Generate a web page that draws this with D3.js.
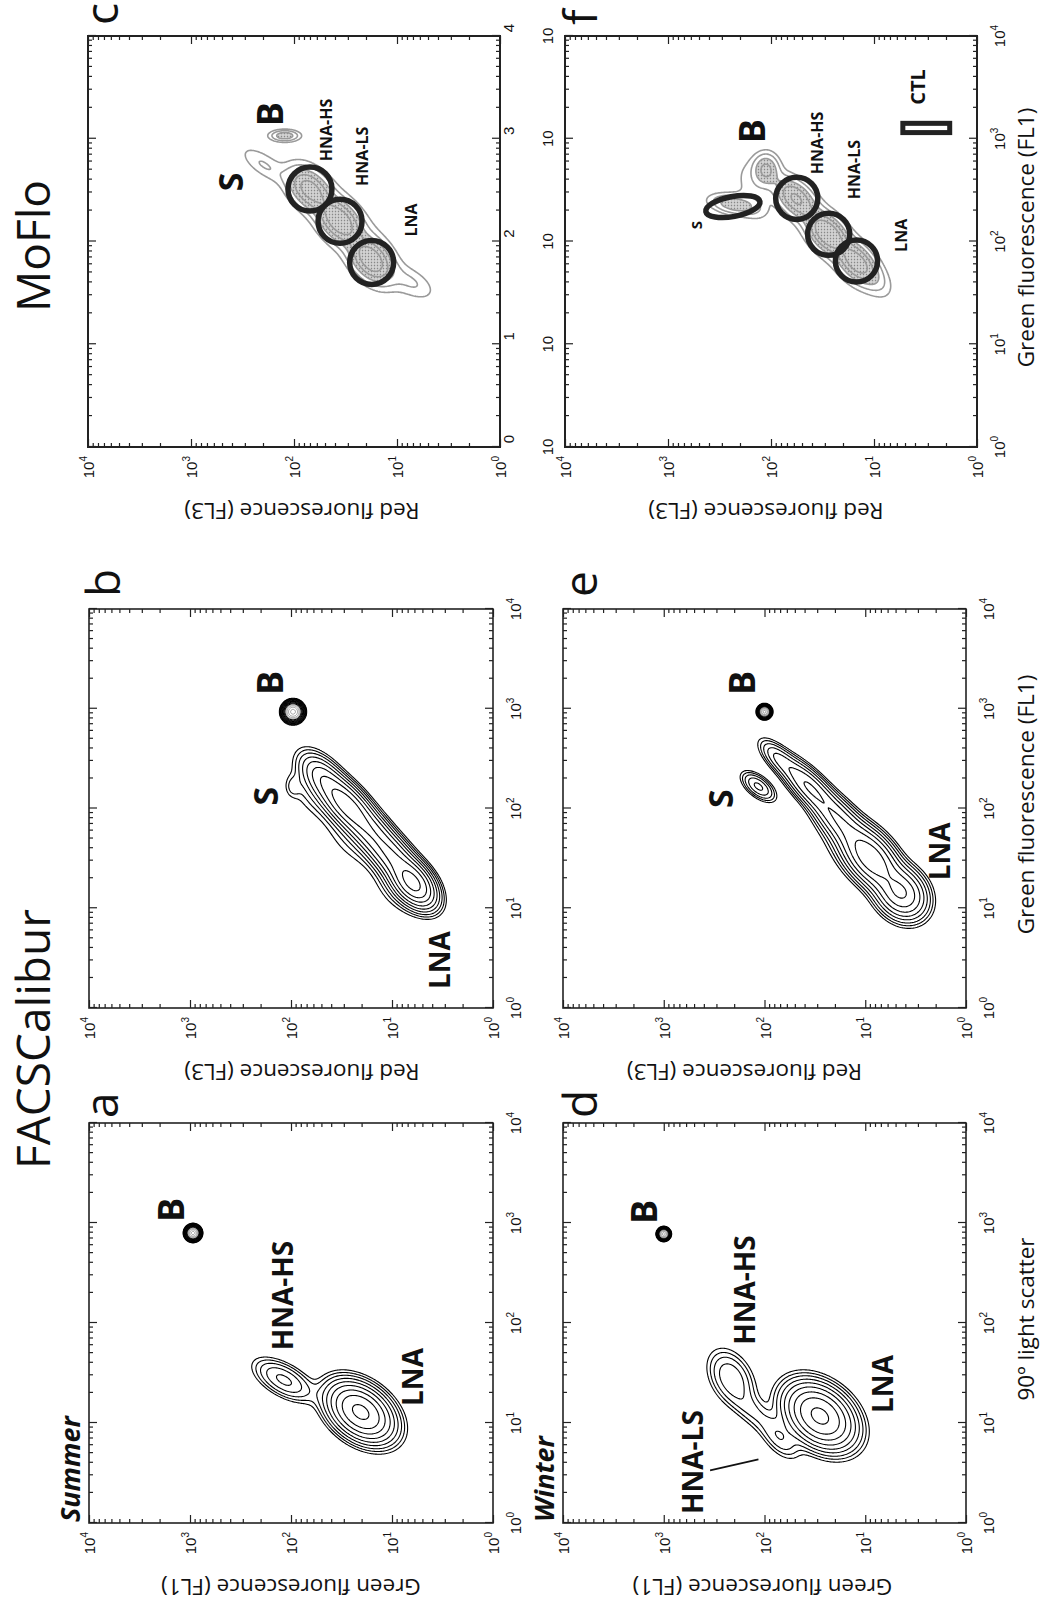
<!DOCTYPE html>
<html>
<head>
<meta charset="utf-8">
<script src="https://cdn.jsdelivr.net/npm/d3@7"></script>
<style>
  body { margin: 0; background: #fff; }
  svg { display: block; }
  text { font-family: "Open Sans", "Noto Sans", sans-serif; fill: #111; }
  .tl { font-family: "Liberation Sans", Arial, sans-serif; font-size: 15px; }
</style>
</head>
<body>
<svg id="canvas" width="1045" height="1617"></svg>
<script>
// ---------- values ----------
const panels = ['a', 'b', 'c', 'd', 'e', 'f'];
const decades = [0, 1, 2, 3, 4];
const groupTitles = ['FACSCalibur', 'MoFlo'];
const yTitles = ['Green fluorescence (FL1)', 'Red fluorescence (FL3)', 'Red fluorescence (FL3)',
                 'Green fluorescence (FL1)', 'Red fluorescence (FL3)', 'Red fluorescence (FL3)'];
const xTitles = [null, null, null, '90º light scatter', 'Green fluorescence (FL1)', 'Green fluorescence (FL1)'];
const seasons = ['Summer', null, null, 'Winter', null, null];

// cell populations: [log10 x, log10 y, sd along axis, sd across axis, axis angle (deg), peak]
const popsA = [
  [2.90, 2.97, 0.029, 0.029, 0, 300],
  [1.43, 2.07, 0.180, 0.085, 60, 7],
  [1.11, 1.31, 0.190, 0.125, 52, 45]
];
const popsB = [
  [2.97, 1.98, 0.040, 0.040, 0, 300],
  [2.30, 1.68, 0.17, 0.09, 40, 12],
  [2.04, 1.45, 0.18, 0.09, 42, 30],
  [1.78, 1.22, 0.18, 0.09, 42, 18],
  [1.52, 1.00, 0.18, 0.09, 42, 22],
  [1.25, 0.79, 0.15, 0.09, 40, 45],
  [2.15, 1.80, 0.20, 0.12, 40, 1.5],
  [1.70, 1.40, 0.25, 0.14, 42, 1.5],
  [1.20, 0.95, 0.20, 0.13, 40, 1.5],
  [2.22, 1.98, 0.07, 0.05, 0, 1.5]
];
const popsC = [
  [3.03, 2.09, 0.09, 0.035, 90, 5],
  [2.75, 2.30, 0.17, 0.07, 55, 2],
  [2.51, 1.85, 0.15, 0.10, 45, 9],
  [2.20, 1.56, 0.15, 0.10, 42, 10],
  [1.82, 1.25, 0.15, 0.10, 40, 10],
  [1.60, 0.85, 0.16, 0.08, 60, 1.8],
  [2.10, 1.45, 0.50, 0.17, 42, 1.5]
];
const popsD = [
  [2.89, 3.00, 0.023, 0.023, 0, 300],
  [1.45, 2.33, 0.17, 0.11, 30, 6],
  [1.12, 2.12, 0.18, 0.08, 45, 2.5],
  [0.85, 1.85, 0.15, 0.08, 40, 3.5],
  [1.07, 1.45, 0.20, 0.14, 50, 45]
];
const popsE = [
  [2.97, 2.00, 0.025, 0.025, 0, 300],
  [2.22, 2.06, 0.11, 0.055, 51, 7],
  [2.50, 1.86, 0.14, 0.06, 45, 6],
  [2.22, 1.56, 0.20, 0.075, 44, 16],
  [1.88, 1.26, 0.20, 0.09, 42, 14],
  [1.50, 0.94, 0.20, 0.11, 40, 35],
  [1.15, 0.64, 0.15, 0.12, 40, 25],
  [1.60, 1.15, 0.30, 0.15, 42, 1.2]
];
const popsF = [
  [2.70, 2.05, 0.10, 0.08, 0, 6],
  [2.36, 2.36, 0.15, 0.06, 80, 5],
  [2.50, 2.20, 0.25, 0.10, 20, 1.2],
  [2.42, 1.76, 0.15, 0.09, 45, 8],
  [2.08, 1.45, 0.14, 0.09, 42, 11],
  [1.80, 1.17, 0.14, 0.09, 40, 9],
  [1.65, 1.00, 0.14, 0.08, 40, 2],
  [2.00, 1.40, 0.45, 0.15, 42, 1.2]
];
const levelsFacs = [1, 1.6, 2.5, 4, 6.3, 10, 16, 25, 40, 63, 100, 160, 250];
const levelsMoflo = [1, 2, 3.5, 5.5, 8];

// population labels: [text, log10 x, log10 y]
const labelsA = [['B', 3.13, 3.06], ['HNA-HS', 2.275, 1.98], ['LNA', 1.46, 0.69]];
const labelsB = [['B', 3.26, 2.08], ['S', 2.125, 2.13], ['LNA', 0.48, 0.43]];
const labelsC = [['S', 2.58, 2.50], ['B', 3.24, 2.11], ['HNA-HS', 3.085, 1.63], ['HNA-LS', 2.83, 1.28], ['LNA', 2.21, 0.81]];
const labelsD = [['B', 3.11, 3.07], ['HNA-HS', 2.33, 2.09], ['LNA', 1.39, 0.72], ['HNA-LS', 0.61, 2.61]];
const labelsE = [['S', 2.10, 2.31], ['B', 3.26, 2.09], ['LNA', 1.57, 0.16]];
const labelsF = [['S', 2.16, 2.67], ['B', 3.075, 2.06], ['HNA-HS', 2.96, 1.50], ['HNA-LS', 2.70, 1.14], ['LNA', 2.06, 0.68], ['CTL', 3.33, 0.505]];

// MoFlo sort gates: circles [log10 x, log10 y, radius in decades]
const gatesC = [[2.51, 1.845, 0.214], [2.196, 1.553, 0.214], [1.796, 1.246, 0.214]];
const gatesF = [[2.42, 1.75, 0.205], [2.07, 1.44, 0.205], [1.81, 1.17, 0.205]];
const gateS_F = [2.34, 2.37, 0.097, 0.267, -10.6];   // x, y, rx, ry (decades), tilt
const ctlGate = [3.06, 3.15, 0.265, 0.72];            // x0, x1, y0, y1 (log10)
const leaderD = [[0.526, 2.54], [0.636, 2.06]];       // HNA-LS pointer

const panelData = {
  a: {pops: popsA, levels: levelsFacs, labels: labelsA},
  b: {pops: popsB, levels: levelsFacs, labels: labelsB},
  c: {pops: popsC, levels: levelsMoflo, labels: labelsC},
  d: {pops: popsD, levels: levelsFacs, labels: labelsD},
  e: {pops: popsE, levels: levelsFacs, labels: labelsE},
  f: {pops: popsF, levels: levelsMoflo, labels: labelsF}
};

// ---------- layout (landscape frame, later turned -90deg) ----------
const W = 1045, H = 1617;
const layout = {
  a: {left: 94,   top: 89,  w: 400, h: 404, letterDx: 5,  letterDy: 29, titleShift: 0},
  b: {left: 609,  top: 89,  w: 399, h: 404, letterDx: 12, letterDy: 31, titleShift: 11},
  c: {left: 1170, top: 88,  w: 411, h: 412, letterDx: 11, letterDy: 30, titleShift: 8},
  d: {left: 94,   top: 563, w: 400, h: 403, letterDx: 5,  letterDy: 34, titleShift: -2},
  e: {left: 609,  top: 563, w: 399, h: 403, letterDx: 12, letterDy: 34, titleShift: -20},
  f: {left: 1170, top: 565, w: 411, h: 412, letterDx: 11, letterDy: 32, titleShift: -5}
};
const labelSize = {
  a: {B: 36, S: 34, other: 28}, b: {B: 36, S: 34, other: 28}, d: {B: 36, S: 34, other: 28},
  e: {B: 36, S: 34, other: 28}, c: {B: 36, S: 34, other: 16}, f: {B: 36, S: 15, CTL: 20, other: 16}
};

const svg = d3.select('#canvas');
const defs = svg.append('defs');
const pat = defs.append('pattern').attr('id', 'stipple')
  .attr('width', 3).attr('height', 3).attr('patternUnits', 'userSpaceOnUse');
pat.append('rect').attr('width', 3).attr('height', 3).attr('fill', '#d2d2d2');
pat.append('circle').attr('cx', 1.5).attr('cy', 1.5).attr('r', 0.8).attr('fill', '#888');

const fig = svg.append('g').attr('transform', `translate(0,${H}) rotate(-90)`);

fig.append('text').attr('x', 578).attr('y', 50).attr('text-anchor', 'middle')
  .attr('font-size', 46).text(groupTitles[0]);
fig.append('text').attr('x', 1371).attr('y', 50).attr('text-anchor', 'middle')
  .attr('font-size', 46).text(groupTitles[1]);

const density = (pops, lx, ly) => {
  let s = 0;
  for (const p of pops) {
    const t = p[4] * Math.PI / 180, dx = lx - p[0], dy = ly - p[1];
    const a = dx * Math.cos(t) + dy * Math.sin(t);
    const b = -dx * Math.sin(t) + dy * Math.cos(t);
    s += p[5] * Math.exp(-0.5 * (a * a / (p[2] * p[2]) + b * b / (p[3] * p[3])));
  }
  return s;
};

const N = 400;

panels.forEach((key, idx) => {
  const L = layout[key], D = panelData[key];
  const moflo = key === 'c' || key === 'f';
  const g = fig.append('g').attr('transform', `translate(${L.left},${L.top})`);

  const x = d3.scaleLog().domain([1, 1e4]).range([0, L.w]);
  const y = d3.scaleLog().domain([1, 1e4]).range([L.h, 0]);

  // density grid -> contours
  const vals = new Float64Array(N * N);
  for (let j = 0; j < N; j++) {
    for (let i = 0; i < N; i++) {
      vals[j * N + i] = density(D.pops, (i + 0.5) * 4 / N, (j + 0.5) * 4 / N);
    }
  }
  const contours = d3.contours().size([N, N]).thresholds(D.levels)(vals);
  const proj = d3.geoTransform({
    point(px, py) { this.stream.point(x(10 ** (px * 4 / N)), y(10 ** (py * 4 / N))); }
  });
  const path = d3.geoPath(proj);

  g.selectAll('path.ct').data(contours).join('path')
    .attr('class', 'ct')
    .attr('d', path)
    .attr('fill', (c, k) => moflo && k >= 2 ? 'url(#stipple)' : 'none')
    .attr('stroke', (c, k) => moflo ? '#9a9a9a' : (k > 8 ? '#666' : '#000'))
    .attr('stroke-width', (c, k) => moflo ? 1.6 : (k > 8 ? 0.6 : 1.1))
    .attr('stroke-linejoin', 'round');

  // ticks on all four sides
  const all = x.ticks();
  const isMajor = t => Math.abs(Math.log10(t) - Math.round(Math.log10(t))) < 1e-9;
  const major = all.filter(isMajor), minor = all.filter(t => !isMajor(t));
  const tickSets = [
    [d3.axisBottom(x), `translate(0,${L.h})`],
    [d3.axisTop(x), 'translate(0,0)'],
    [d3.axisLeft(y), 'translate(0,0)'],
    [d3.axisRight(y), `translate(${L.w},0)`]
  ];
  tickSets.forEach(([ax, tr]) => {
    [[minor, -4], [major, -8]].forEach(([tv, sz]) => {
      const a = g.append('g').attr('transform', tr)
        .call(ax.tickValues(tv).tickSize(sz).tickFormat(''));
      a.select('.domain').remove();
      a.selectAll('line').attr('stroke', '#222').attr('stroke-width', 1.2);
    });
  });

  g.append('rect').attr('width', L.w).attr('height', L.h)
    .attr('fill', 'none').attr('stroke', '#222').attr('stroke-width', moflo ? 2 : 1.6);

  // tick labels
  const yl = g.selectAll('text.yl').data(decades).join('text')
    .attr('class', 'tl yl').attr('text-anchor', 'end')
    .attr('x', -9).attr('y', d => y(10 ** d) + 6);
  yl.append('tspan').text('10');
  yl.append('tspan').attr('dy', -7).attr('font-size', 10).text(d => d);

  if (key === 'c') {
    g.selectAll('text.xb').data(decades).join('text')
      .attr('class', 'tl xb').attr('text-anchor', 'middle')
      .attr('x', d => x(10 ** d)).attr('y', L.h + 53).text('10');
    g.selectAll('text.xs').data(decades).join('text')
      .attr('class', 'tl xs').attr('text-anchor', 'middle').attr('font-size', 10)
      .attr('x', d => x(10 ** d) + 8).attr('y', L.h + 14).text(d => d);
  } else {
    const xl = g.selectAll('text.xl').data(decades).join('text')
      .attr('class', 'tl xl').attr('text-anchor', 'middle')
      .attr('x', d => x(10 ** d)).attr('y', L.h + 28);
    xl.append('tspan').text('10');
    xl.append('tspan').attr('dy', -7).attr('font-size', 10).text(d => d);
  }

  // axis titles
  g.append('text')
    .attr('transform', `translate(-56,${L.h / 2 + L.titleShift}) rotate(-90)`)
    .attr('text-anchor', 'middle').attr('font-size', 22.5).text(yTitles[idx]);
  if (xTitles[idx]) {
    g.append('text').attr('x', L.w / 2 + 4).attr('y', 1034 - L.top)
      .attr('text-anchor', 'middle').attr('font-size', 22.5).text(xTitles[idx]);
  }

  // panel letter and season
  g.append('text').attr('x', L.w + L.letterDx).attr('y', L.letterDy)
    .attr('font-size', 46).text(key);
  if (seasons[idx]) {
    g.append('text').attr('x', 1).attr('y', -9)
      .attr('font-size', 27).attr('font-weight', 700).attr('font-style', 'italic')
      .text(seasons[idx]);
  }

  // gates
  if (key === 'c' || key === 'f') {
    const gates = key === 'c' ? gatesC : gatesF;
    g.selectAll('circle.gate').data(gates).join('circle')
      .attr('class', 'gate')
      .attr('cx', d => x(10 ** d[0])).attr('cy', d => y(10 ** d[1]))
      .attr('r', d => x(10 ** (d[0] + d[2])) - x(10 ** d[0]))
      .attr('fill', 'none').attr('stroke', '#222').attr('stroke-width', 5.5);
  }
  if (key === 'f') {
    const [ex, ey, erx, ery, tilt] = gateS_F;
    const cx = x(10 ** ex), cy = y(10 ** ey);
    g.append('ellipse').attr('cx', cx).attr('cy', cy)
      .attr('rx', x(10 ** (ex + erx)) - cx).attr('ry', cy - y(10 ** (ey + ery)))
      .attr('transform', `rotate(${tilt},${cx},${cy})`)
      .attr('fill', 'none').attr('stroke', '#222').attr('stroke-width', 5.5);
    g.append('rect')
      .attr('x', x(10 ** ctlGate[0])).attr('y', y(10 ** ctlGate[3]))
      .attr('width', x(10 ** ctlGate[1]) - x(10 ** ctlGate[0]))
      .attr('height', y(10 ** ctlGate[2]) - y(10 ** ctlGate[3]))
      .attr('fill', '#fff').attr('stroke', '#222').attr('stroke-width', 5);
  }
  if (key === 'd') {
    g.append('line')
      .attr('x1', x(10 ** leaderD[0][0])).attr('y1', y(10 ** leaderD[0][1]))
      .attr('x2', x(10 ** leaderD[1][0])).attr('y2', y(10 ** leaderD[1][1]))
      .attr('stroke', '#111').attr('stroke-width', 1.6);
  }

  // population labels
  const sz = labelSize[key];
  g.selectAll('text.pl').data(D.labels).join('text')
    .attr('class', 'pl')
    .attr('x', d => x(10 ** d[1])).attr('y', d => y(10 ** d[2]))
    .attr('text-anchor', d => d[0] === 'CTL' ? 'start' : 'middle')
    .attr('font-weight', 700)
    .attr('font-size', d => sz[d[0]] || sz.other)
    .text(d => d[0]);
});
</script>
</body>
</html>
